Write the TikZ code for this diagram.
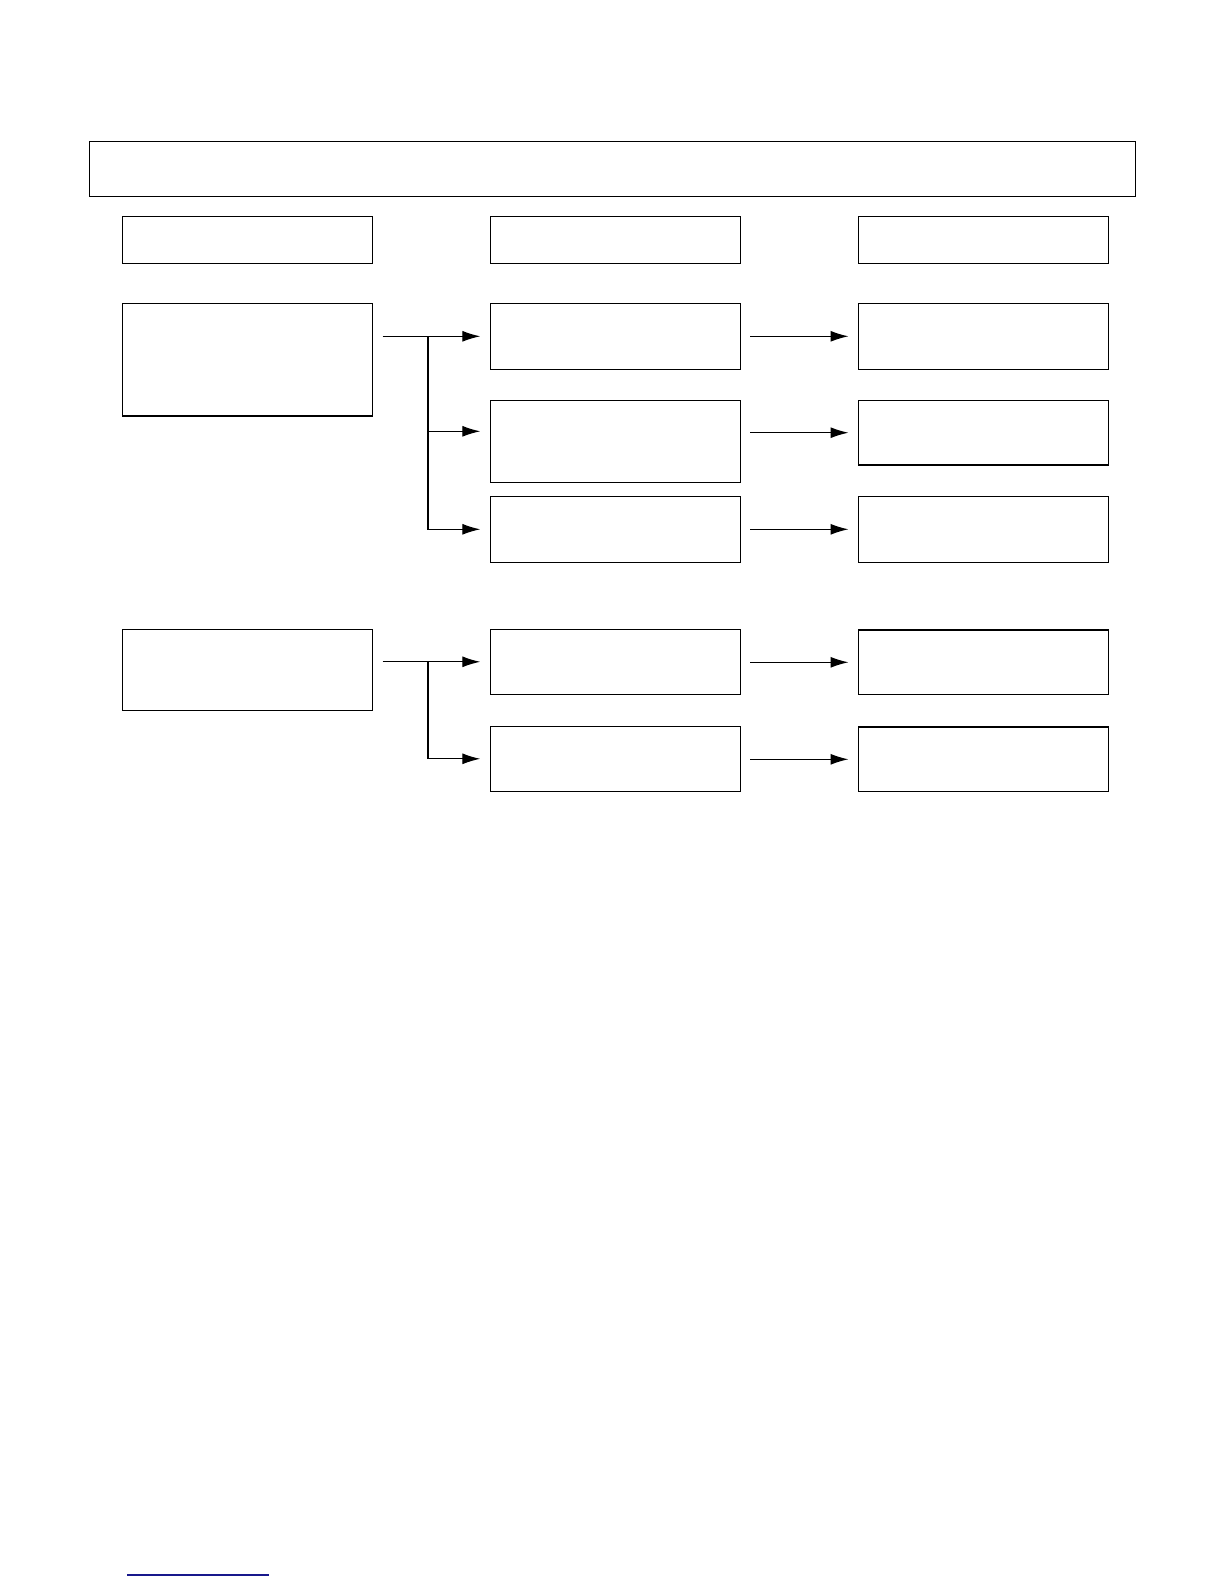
\documentclass[tikz,border=0pt]{standalone}
\usetikzlibrary{arrows.meta}
\definecolor{rulenavy}{RGB}{24,24,140}
\begin{document}
\begin{tikzpicture}[x=0.5pt,y=-0.5pt,
    box/.style={draw, line width=0.6pt, inner sep=0pt, outer sep=0pt, minimum width=125pt},
    arrow/.style={-{Latex[length=9pt,width=5.5pt]}, line width=0.6pt, shorten >=5pt},
    gap/.style={shorten <=5pt}]
    \useasboundingbox (0,0) rectangle (1224,1584);
    % title
    \node[box, minimum width=523pt, minimum height=27.5pt] (title) at (612.3,168.8) {};
    % headers
    \foreach \x/\name in {247.5/headA,615.3/headB,983.5/headC}{
        \node[box, minimum height=23.5pt] (\name) at (\x,239.8) {};
    }
    % group 1
    \node[box, minimum height=56.35pt] (src1) at (247.5,359.7) {};
    \foreach \y/\h [count=\i] in {336.3/33pt,441.3/41pt,529.3/33pt}{
        \node[box, minimum height=\h] (mid\i) at (615.3,\y) {};
    }
    \foreach \y/\h [count=\i] in {336.3/33pt,432.7/32.35pt,529.3/33pt}{
        \node[box, minimum height=\h] (out\i) at (983.5,\y) {};
    }
    % group 2
    \node[box, minimum height=40.5pt] (src2) at (247.5,669.8) {};
    \foreach \y/\h [count=\i from 4] in {661.8/32.5pt,758.8/32.5pt}{
        \node[box, minimum height=\h] (mid\i) at (615.3,\y) {};
    }
    \foreach \y/\h [count=\i from 4] in {662.3/32.3pt,759.3/32.3pt}{
        \node[box, minimum height=\h] (out\i) at (983.5,\y) {};
    }

    % forks
    \coordinate (forkA) at (428,0);
    \draw[arrow, gap] (src1.east |- mid1.west) -- (mid1.west);
    \draw[arrow] (forkA |- mid1.west) |- ([yshift=5pt]mid2.west);
    \draw[arrow] (forkA |- mid1.west) |- (mid3.west);
    \draw[arrow, gap] (src2.east |- mid4.west) -- (mid4.west);
    \draw[arrow] (forkA |- mid4.west) |- (mid5.west);
    \foreach \i in {1,...,5}{
        \draw[arrow, gap] (mid\i.east |- out\i.west) -- (out\i.west);
    }

    % rule
    \draw[rulenavy, line width=0.8pt] (127,1575) -- (269,1575);
\end{tikzpicture}
\end{document}
